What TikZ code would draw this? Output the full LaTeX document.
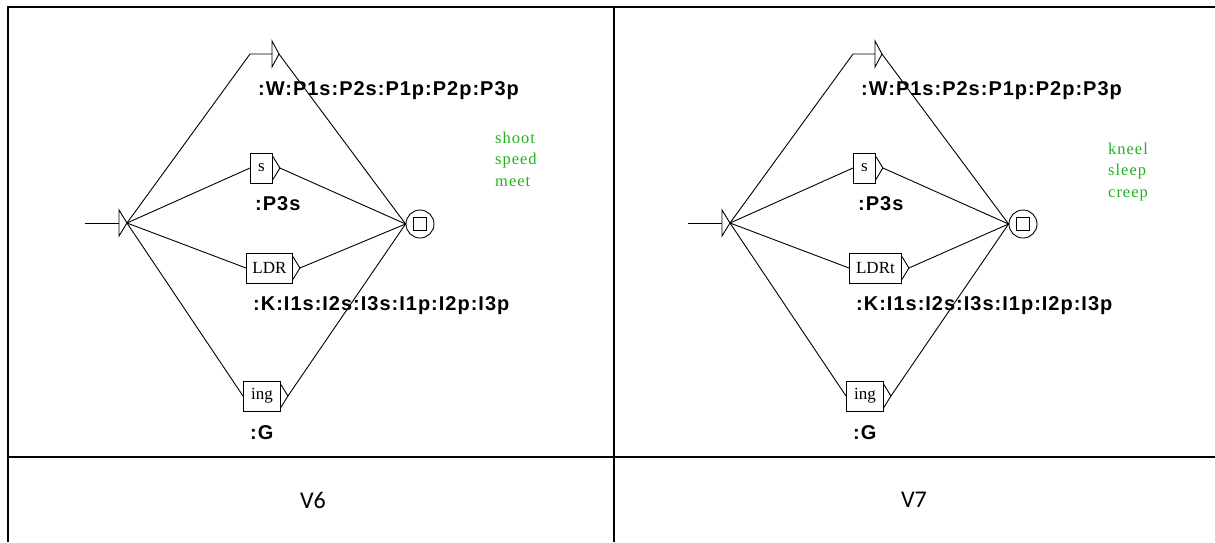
\documentclass[tikz,border=0pt]{standalone}
\usepackage{fontspec}
\setmainfont{Liberation Serif}
\newfontfamily\lblfont[LetterSpace=5]{Liberation Sans}
\newfontfamily\grnfont[LetterSpace=6]{Liberation Serif}
\newfontfamily\calfont{Carlito}
\usetikzlibrary{calc}
\definecolor{grn}{RGB}{30,180,30}
\tikzset{
  ln/.style={line width=0.9pt, black},
  tbl/.style={line width=2pt, black},
  boxnode/.style={draw, ln, minimum height=30pt, inner sep=0pt, anchor=west,
    font=\fontsize{17}{17}\selectfont},
  outlbl/.style={anchor=base west, inner sep=0pt, font=\lblfont\bfseries\fontsize{20}{22}\selectfont},
  grnlbl/.style={anchor=base west, inner sep=0pt, text=grn, font=\grnfont\fontsize{16.5}{18}\selectfont},
  cell/.style={inner sep=0pt, font=\calfont\fontsize{24}{28}\selectfont},
}
% triangle at the right of a box node #1, apex named #1a
\newcommand\boxtri[1]{%
  \coordinate (#1a) at ($(#1.east)+(7,0)$);
  \draw[ln] ($(#1.north east)+(0,4)$) -- (#1a) -- ($(#1.south east)+(0,-4)$);
}
% #1 prefix, #2 shift, #3 ldr text, #4 ldr width, #5 #6 #7 words, #8 words x, #9 first baseline
\newcommand\automaton[9]{%
\begin{scope}[xshift=#2]
  % initial state
  \coordinate (#1in) at (85,223);
  \coordinate (#1ib) at (119,223);
  \coordinate (#1i) at (127,223);
  \draw[ln] (#1in) -- (#1ib);
  \draw[ln] (119,210) -- (#1i) -- (119,236) -- cycle;
  % final state
  \node[draw, ln, circle, minimum size=28pt, inner sep=0pt] (#1f) at (420,224) {};
  \node[draw, line width=0.9pt, minimum size=13pt, inner sep=0pt] (#1fq) at (#1f.center) {};
  % empty box
  \coordinate (#1e) at (250,54);
  \coordinate (#1eb) at (272,54);
  \coordinate (#1ea) at (279,54);
  \draw[ln] (272,41) -- (#1ea) -- (272,67) -- cycle;
  % boxes
  \node[boxnode, minimum width=22pt] (#1s) at (250,168) {s};
  \node[boxnode, minimum width=#4pt] (#1l) at (246,268) {#3};
  \node[boxnode, minimum width=37pt] (#1g) at (243,396) {ing};
  \boxtri{#1s}\boxtri{#1l}\boxtri{#1g}
  % transitions
  \draw[ln] (#1i) -- (#1e) -- (#1eb);
  \draw[ln] (#1i) -- (#1s.west);
  \draw[ln] (#1i) -- (#1l.west);
  \draw[ln] (#1i) -- (#1g.west);
  \draw[ln] (#1ea) -- (#1f.west);
  \draw[ln] (#1sa) -- (#1f.west);
  \draw[ln] (#1la) -- (#1f.west);
  \draw[ln] (#1ga) -- (#1f.west);
  % outputs
  \node[outlbl] (#1wo) at (258,95) {:W:P1s:P2s:P1p:P2p:P3p};
  \node[outlbl] (#1po) at (255,210) {:P3s};
  \node[outlbl] (#1ko) at (253,310) {:K:I1s:I2s:I3s:I1p:I2p:I3p};
  \node[outlbl] (#1go) at (250,439) {:G};
  % comments
  \node[grnlbl] (#1c1) at (#8,#9) {#5};
  \node[grnlbl] (#1c2) at (#8,#9+21.5) {#6};
  \node[grnlbl] (#1c3) at (#8,#9+43) {#7};
\end{scope}}
\begin{document}
\begin{tikzpicture}[x=1pt, y=-1pt]
\useasboundingbox (0,0) rectangle (1215,542);
\fill[white] (0,0) rectangle (1215,542);
% table
\draw[tbl] (8,542) -- (8,7) -- (1215,7);
\draw[tbl] (614,7) -- (614,542);
\draw[tbl] (8,457) -- (1215,457);
\automaton{a}{0pt}{LDR}{46}{shoot}{speed}{meet}{495}{143}
\automaton{b}{603pt}{LDRt}{52}{kneel}{sleep}{creep}{505}{154}
\node[cell] (v6) at (313,500) {V6};
\node[cell] (v7) at (914,500) {V7};
\end{tikzpicture}
\end{document}
